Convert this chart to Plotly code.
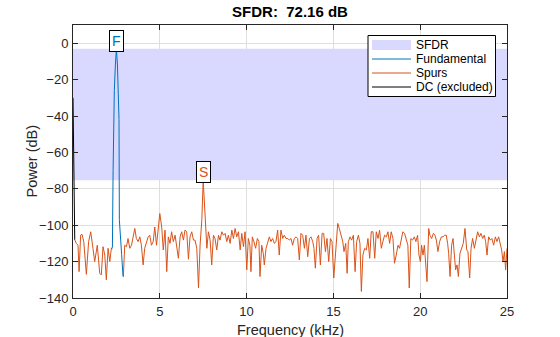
import plotly.graph_objects as go

# ---- data ----
fund_freq = 2.5
fund_db = -3.1
spur_freq = 7.5
spur_db = -75.26
sfdr_db = 72.16

dc_f = [0.0, 0.1]
dc_db = [-30.0, -108.0]

fund_f = [2.22, 2.27, 2.31, 2.33, 2.38, 2.44, 2.5, 2.56, 2.61, 2.65, 2.67, 2.72, 2.8, 2.88]
fund_v = [-113.0, -112.0, -70.0, -42.0, -26.0, -12.0, -3.1, -12.0, -26.0, -42.0, -97.0, -103.0, -116.0, -128.0]

spur_f = [0.1, 0.19, 0.29, 0.35, 0.44, 0.52, 0.62, 0.77, 0.9, 1.02, 1.15, 1.25, 1.4, 1.54, 1.63, 1.73, 1.83, 1.92,
          2.02, 2.12, 2.21, 2.27,
          2.9, 2.98, 3.08, 3.17, 3.27, 3.37, 3.56, 3.65, 3.75, 3.85, 3.94, 4.04, 4.13, 4.33, 4.42, 4.52, 4.62, 4.71,
          4.81, 4.9, 5.0, 5.11, 5.2, 5.3, 5.4, 5.49, 5.59, 5.68, 5.78, 5.88, 5.97, 6.07, 6.17, 6.26, 6.36, 6.45,
          6.55, 6.65, 6.74, 6.84, 6.94, 7.03, 7.13, 7.23, 7.32, 7.42, 7.5, 7.61, 7.71, 7.8, 7.9, 7.99, 8.09, 8.18,
          8.28, 8.38, 8.47, 8.57, 8.67, 8.76, 8.86, 8.95, 9.05, 9.15, 9.24, 9.34, 9.43, 9.53, 9.63, 9.72, 9.82,
          9.91, 10.01, 10.1, 10.19, 10.25, 10.33, 10.42, 10.52, 10.62, 10.71, 10.77, 10.87, 10.96, 11.02, 11.12,
          11.21, 11.31, 11.4, 11.5, 11.6, 11.69, 11.79, 11.88, 11.98, 12.08, 12.17, 12.27, 12.37, 12.46, 12.56,
          12.65, 12.75, 12.85, 12.94, 13.04, 13.13, 13.23, 13.33, 13.42, 13.52, 13.62, 13.71, 13.81, 13.88, 13.96,
          14.06, 14.15, 14.25, 14.35, 14.44, 14.54, 14.63, 14.73, 14.83, 14.92, 15.02, 15.15, 15.25, 15.34, 15.44,
          15.54, 15.61, 15.71, 15.79, 15.86, 15.96, 16.05, 16.15, 16.25, 16.34, 16.44, 16.53, 16.61, 16.7, 16.8,
          16.9, 16.99, 17.09, 17.18, 17.28, 17.38, 17.47, 17.57, 17.66, 17.76, 17.85, 17.95, 18.05, 18.14, 18.24,
          18.33, 18.43, 18.52, 18.62, 18.72, 18.81, 18.91, 19.0, 19.1, 19.2, 19.29, 19.37, 19.46, 19.56, 19.66,
          19.75, 19.85, 19.93, 20.01, 20.08, 20.16, 20.24, 20.31, 20.39, 20.49, 20.56, 20.66, 20.76, 20.85, 20.93,
          21.02, 21.12, 21.22, 21.31, 21.41, 21.5, 21.58, 21.64, 21.72, 21.81, 21.89, 21.97, 22.04, 22.12, 22.2,
          22.29, 22.39, 22.48, 22.58, 22.68, 22.75, 22.85, 22.93, 23.02, 23.12, 23.21, 23.31, 23.41, 23.5, 23.6,
          23.69, 23.77, 23.85, 23.94, 24.04, 24.13, 24.23, 24.33, 24.42, 24.52, 24.62, 24.69, 24.77, 24.85, 24.92,
          25.0]
spur_v = [-108.0, -110.0, -111.0, -125.5, -105.5, -105.0, -109.0, -127.0, -109.0, -103.6, -112.7, -120.0, -111.0,
          -126.4, -127.3, -111.8, -116.4, -130.0, -112.7, -120.0, -112.7, -113.0,
          -128.5, -111.0, -111.8, -107.3, -112.7, -111.0, -101.8, -107.3, -109.0, -106.4, -111.0, -121.8, -112.7,
          -106.4, -105.5, -111.0, -109.0, -101.0, -111.0, -101.8, -93.6, -101.0, -113.6, -102.7, -125.5, -106.4,
          -110.0, -103.6, -109.0, -105.5, -111.8, -118.2, -106.4, -103.6, -108.2, -102.7, -103.6, -118.7, -106.4,
          -103.6, -108.2, -108.2, -112.7, -134.5, -110.9, -97.3, -75.26, -97.3, -112.7, -103.6, -108.2, -121.8,
          -105.5, -107.3, -113.6, -105.5, -108.2, -103.6, -105.5, -104.5, -109.0, -105.5, -110.0, -102.7, -107.3,
          -101.8, -106.4, -103.6, -113.6, -104.5, -111.8, -103.6, -124.5, -107.3, -111.0, -125.5, -106.4, -109.0,
          -112.7, -107.3, -109.0, -128.2, -111.0, -115.5, -121.8, -112.7, -109.0, -106.4, -109.0, -107.3, -110.0,
          -109.0, -102.7, -116.4, -102.7, -107.3, -105.5, -107.3, -107.3, -108.2, -107.3, -111.0, -107.3, -106.4,
          -107.3, -119.1, -104.5, -105.5, -112.7, -105.5, -117.3, -107.3, -106.4, -109.0, -112.7, -123.6, -107.3,
          -105.5, -121.8, -104.5, -104.5, -114.5, -107.3, -120.0, -107.3, -109.0, -129.0, -109.0, -99.0, -101.8,
          -105.5, -109.0, -114.5, -110.0, -126.4, -109.0, -106.4, -108.2, -105.5, -125.5, -109.0, -105.5, -110.0,
          -136.4, -116.4, -112.7, -113.6, -107.3, -118.2, -103.6, -103.6, -118.2, -103.6, -107.3, -102.7, -112.7,
          -109.0, -105.5, -106.4, -103.6, -110.0, -103.6, -107.3, -120.9, -116.4, -111.0, -112.7, -108.2, -103.6,
          -104.5, -108.2, -111.0, -134.5, -107.3, -108.2, -106.4, -109.0, -105.5, -116.4, -120.0, -111.0, -116.4,
          -111.0, -122.7, -131.0, -101.8, -105.5, -107.3, -104.5, -105.5, -108.2, -114.5, -109.0, -106.4, -106.4,
          -105.5, -105.5, -110.0, -115.5, -128.2, -111.0, -107.3, -120.0, -124.5, -121.8, -128.2, -115.5, -112.7,
          -110.0, -101.8, -113.6, -114.5, -129.0, -112.7, -107.3, -112.7, -107.3, -103.6, -106.4, -104.5, -107.3,
          -105.5, -109.0, -116.4, -106.4, -108.2, -107.3, -111.0, -106.4, -109.0, -106.4, -110.0, -113.6, -120.0,
          -114.5, -124.5, -112.7, -104.5]

x_ticks = [0, 5, 10, 15, 20, 25]
y_ticks = [-140, -120, -100, -80, -60, -40, -20, 0]
legend_labels = ["SFDR", "Fundamental", "Spurs", "DC (excluded)"]
x_title = "Frequency (kHz)"
y_title = "Power (dB)"

BLUE = "#0072BD"
ORANGE = "#D95319"
BAND = "#D9D9FF"
INK = "#262626"
FONT = "Liberation Sans, Arial, Helvetica, sans-serif"

# plot-area geometry in pixels (for the MATLAB-style legend and axis labels)
W, H = 560, 337
ML, MR, MT, MB = 73, 53, 25, 39
PW, PH = W - ML - MR, H - MT - MB


def px(x):
    return (x - ML) / PW


def py(y):
    return (H - MB - y) / PH


gap = spur_f.index(2.9)

fig = go.Figure()

fig.add_trace(go.Scatter(
    x=[0, 25, 25, 0, 0], y=[spur_db, spur_db, fund_db, fund_db, spur_db],
    fill="toself", fillcolor=BAND, line=dict(width=0, color=BAND),
    mode="lines", name=legend_labels[0], hoverinfo="skip"))

fig.add_trace(go.Scatter(
    x=spur_f[:gap] + [None] + spur_f[gap:], y=spur_v[:gap] + [None] + spur_v[gap:],
    mode="lines", line=dict(color=ORANGE, width=1), name=legend_labels[2]))

fig.add_trace(go.Scatter(
    x=fund_f, y=fund_v, mode="lines", line=dict(color=BLUE, width=1), name=legend_labels[1]))

fig.add_trace(go.Scatter(
    x=dc_f, y=dc_db, mode="lines", line=dict(color="black", width=1), name=legend_labels[3]))

for (fx, fy, lab, col) in [(fund_freq, fund_db, "F", BLUE), (spur_freq, spur_db, "S", ORANGE)]:
    fig.add_annotation(x=fx, y=fy, text=lab, showarrow=False, yanchor="bottom", yshift=-3,
                       xanchor="center", font=dict(family=FONT, size=14, color=col),
                       bgcolor="white", bordercolor="black", borderwidth=1, borderpad=2)

# ---- MATLAB-style legend ----
fig.add_shape(type="rect", xref="paper", yref="paper", x0=px(368), x1=px(495.5), y0=py(96.5), y1=py(35.5),
              fillcolor="white", line=dict(color="black", width=1), layer="above")
fig.add_shape(type="rect", xref="paper", yref="paper", x0=px(372), x1=px(411), y0=py(50), y1=py(40),
              fillcolor=BAND, line=dict(width=0), layer="above")
for yy, col in [(59, BLUE), (73, ORANGE), (87, "black")]:
    fig.add_shape(type="line", xref="paper", yref="paper", x0=px(372), x1=px(411), y0=py(yy), y1=py(yy),
                  line=dict(color=col, width=1), layer="above")
for yy, lab in zip([45, 59, 73, 87], legend_labels):
    fig.add_annotation(xref="paper", yref="paper", x=px(414), y=py(yy), text=lab, showarrow=False,
                       xanchor="left", yanchor="middle", font=dict(family=FONT, size=12, color="black"))

# ---- axis titles ----
fig.add_annotation(xref="paper", yref="paper", x=0.5, y=py(329.5), text=x_title, showarrow=False,
                   xanchor="center", yanchor="middle", font=dict(family=FONT, size=14.5, color=INK))
fig.add_annotation(xref="paper", yref="paper", x=px(31), y=0.5, text=y_title, showarrow=False,
                   textangle=-90, xanchor="center", yanchor="middle",
                   font=dict(family=FONT, size=14.5, color=INK))

axis_common = dict(
    showline=True, mirror="ticks", linecolor=INK, linewidth=1,
    ticks="inside", ticklen=5, tickcolor=INK, automargin=False,
    showgrid=True, gridcolor="#DFDFDF", gridwidth=1, zeroline=False,
    tickfont=dict(family=FONT, size=13, color=INK),
)

fig.update_xaxes(range=[0, 25], tickvals=x_ticks, ticklabelstandoff=1, **axis_common)
fig.update_yaxes(range=[-140, 10], tickvals=y_ticks, ticklabelstandoff=1, **axis_common)

fig.update_layout(
    width=W, height=H,
    margin=dict(l=ML, r=MR, t=MT, b=MB, autoexpand=False),
    paper_bgcolor="white", plot_bgcolor="white",
    title=dict(text="<b>SFDR:  %.2f dB</b>" % sfdr_db, x=(ML + PW / 2) / W, xanchor="center",
               y=1 - 12 / H, yanchor="middle", font=dict(family=FONT, size=15, color="black")),
    showlegend=False,
)

fig.write_html("out.html")
